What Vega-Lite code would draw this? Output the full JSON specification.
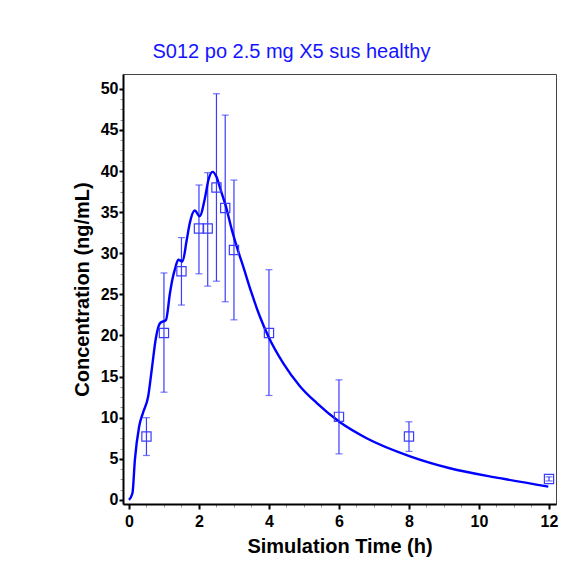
{
  "$schema": "https://vega.github.io/schema/vega-lite/v6.json",
  "autosize": "none",
  "width": 433,
  "height": 430,
  "padding": {"left": 123, "top": 74, "right": 21, "bottom": 72},
  "background": "white",
  "title": {
    "text": "S012 po 2.5 mg X5 sus healthy",
    "font": "Liberation Sans",
    "fontSize": 20,
    "fontWeight": "normal",
    "color": "#1414ff",
    "anchor": "middle",
    "frame": "group",
    "dx": -48,
    "baseline": "alphabetic",
    "offset": -4
  },
  "datasets": {
    "sim": [
      {"t": 0, "c": 0}, {"t": 0.1, "c": 0.8}, {"t": 0.17, "c": 4.9}, {"t": 0.29, "c": 8.9},
      {"t": 0.41, "c": 10.7}, {"t": 0.55, "c": 12.6}, {"t": 0.65, "c": 15.8}, {"t": 0.77, "c": 19.7},
      {"t": 0.89, "c": 21.5}, {"t": 1.06, "c": 21.9}, {"t": 1.17, "c": 25.1}, {"t": 1.24, "c": 26.8},
      {"t": 1.31, "c": 28.0}, {"t": 1.41, "c": 29.2}, {"t": 1.53, "c": 29.0}, {"t": 1.65, "c": 31.6},
      {"t": 1.74, "c": 33.7}, {"t": 1.88, "c": 35.2}, {"t": 2.02, "c": 34.5}, {"t": 2.17, "c": 36.7},
      {"t": 2.27, "c": 38.9}, {"t": 2.39, "c": 39.9}, {"t": 2.5, "c": 39.3}, {"t": 2.62, "c": 37.7},
      {"t": 2.77, "c": 35.7}, {"t": 2.93, "c": 33.0}, {"t": 3.08, "c": 30.8}, {"t": 3.27, "c": 28.3},
      {"t": 3.5, "c": 25.2}, {"t": 3.74, "c": 22.3}, {"t": 3.98, "c": 19.9}, {"t": 4.41, "c": 16.6},
      {"t": 4.89, "c": 13.8}, {"t": 5.36, "c": 11.8}, {"t": 6.01, "c": 9.5}, {"t": 6.79, "c": 7.5},
      {"t": 8.03, "c": 5.3}, {"t": 9.17, "c": 3.85}, {"t": 10.6, "c": 2.64}, {"t": 11.98, "c": 1.62}
    ],
    "obs": [
      {"t": 0.5, "c": 7.7, "lo": 5.4, "hi": 10.0},
      {"t": 1.0, "c": 20.3, "lo": 13.1, "hi": 27.6},
      {"t": 1.5, "c": 27.8, "lo": 23.7, "hi": 31.9},
      {"t": 2.0, "c": 33.0, "lo": 27.5, "hi": 38.3},
      {"t": 2.25, "c": 33.0, "lo": 26.0, "hi": 39.8},
      {"t": 2.5, "c": 38.0, "lo": 26.6, "hi": 49.4},
      {"t": 2.75, "c": 35.5, "lo": 24.1, "hi": 46.8},
      {"t": 3.0, "c": 30.4, "lo": 21.9, "hi": 38.9},
      {"t": 4.0, "c": 20.3, "lo": 12.7, "hi": 28.0},
      {"t": 6.0, "c": 10.1, "lo": 5.6, "hi": 14.6},
      {"t": 8.0, "c": 7.7, "lo": 5.9, "hi": 9.5},
      {"t": 12.0, "c": 2.55, "lo": 2.3, "hi": 2.8}
    ]
  },
  "layer": [
    {
      "data": {"name": "obs"},
      "mark": {"type": "rule", "color": "#3c3cff", "strokeWidth": 1.2},
      "encoding": {
        "x": {"field": "t", "type": "quantitative", "scale": {"domain": [-0.17, 12.2], "nice": false, "zero": false},
          "axis": {"orient": "bottom", "values": [0.5, 1, 1.5, 2.5, 3, 3.5, 4.5, 5, 5.5, 6.5, 7, 7.5, 8.5, 9, 9.5, 10.5, 11, 11.5],
            "labels": false, "domain": false, "grid": false, "ticks": true, "tickSize": 3, "tickColor": "#999", "tickWidth": 1, "title": null}},
        "y": {"field": "lo", "type": "quantitative", "scale": {"domain": [-0.5, 51.8], "nice": false, "zero": false},
          "axis": {"orient": "left", "values": [1.25, 2.5, 3.75, 6.25, 7.5, 8.75, 11.25, 12.5, 13.75, 16.25, 17.5, 18.75, 21.25, 22.5, 23.75, 26.25, 27.5, 28.75, 31.25, 32.5, 33.75, 36.25, 37.5, 38.75, 41.25, 42.5, 43.75, 46.25, 47.5, 48.75],
            "labels": false, "domain": false, "grid": false, "ticks": true, "tickSize": 3, "tickColor": "#999", "tickWidth": 1, "title": null}},
        "y2": {"field": "hi"}
      }
    },
    {
      "data": {"name": "obs"},
      "mark": {"type": "tick", "orient": "horizontal", "color": "#3c3cff", "size": 7, "thickness": 1.2},
      "encoding": {
        "x": {"field": "t", "type": "quantitative", "axis": null},
        "y": {"field": "lo", "type": "quantitative", "axis": null}
      }
    },
    {
      "data": {"name": "obs"},
      "mark": {"type": "tick", "orient": "horizontal", "color": "#3c3cff", "size": 7, "thickness": 1.2},
      "encoding": {
        "x": {"field": "t", "type": "quantitative", "axis": null},
        "y": {"field": "hi", "type": "quantitative", "axis": null}
      }
    },
    {
      "data": {"name": "sim"},
      "mark": {"type": "line", "color": "#0000ff", "strokeWidth": 2.4, "interpolate": "monotone"},
      "encoding": {
        "x": {"field": "t", "type": "quantitative",
          "axis": {"orient": "bottom", "values": [0, 2, 4, 6, 8, 10, 12], "title": "Simulation Time (h)", "grid": false,
            "domain": true, "domainColor": "black", "domainWidth": 2, "tickColor": "black", "tickWidth": 2, "tickSize": 5,
            "labelFont": "Liberation Sans", "labelFontSize": 16, "labelFontWeight": "bold", "labelColor": "black", "labelPadding": 4,
            "titleFont": "Liberation Sans", "titleFontSize": 20, "titleFontWeight": "bold", "titleColor": "black", "titlePadding": 7}},
        "y": {"field": "c", "type": "quantitative",
          "axis": {"orient": "left", "values": [0, 5, 10, 15, 20, 25, 30, 35, 40, 45, 50], "title": "Concentration (ng/mL)", "grid": false,
            "domain": true, "domainColor": "black", "domainWidth": 2, "tickColor": "black", "tickWidth": 2, "tickSize": 4,
            "labelFont": "Liberation Sans", "labelFontSize": 16, "labelFontWeight": "bold", "labelColor": "black", "labelPadding": 1,
            "titleFont": "Liberation Sans", "titleFontSize": 20, "titleFontWeight": "bold", "titleColor": "black", "titlePadding": 8}}
      }
    },
    {
      "data": {"name": "obs"},
      "mark": {"type": "point", "shape": "square", "filled": false, "color": "#3c3cff", "size": 85, "strokeWidth": 1.2, "opacity": 1},
      "encoding": {
        "x": {"field": "t", "type": "quantitative", "axis": null},
        "y": {"field": "c", "type": "quantitative", "axis": null}
      }
    }
  ],
  "resolve": {"axis": {"x": "independent", "y": "independent"}},
  "config": {
    "view": {"stroke": "#444", "strokeWidth": 1}
  }
}
